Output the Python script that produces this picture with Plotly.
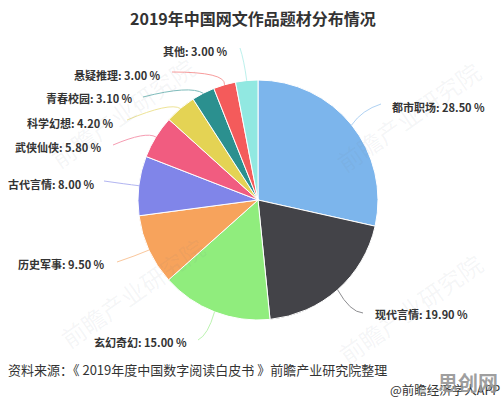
import math
import plotly.graph_objects as go

W, H = 504, 400
CJK = "Noto Sans CJK SC"

categories = ["都市职场", "现代言情", "玄幻奇幻", "历史军事", "古代言情",
              "武侠仙侠", "科学幻想", "青春校园", "悬疑推理", "其他"]
shares = [28.5, 19.9, 15.0, 9.5, 8.0, 5.8, 4.2, 3.1, 3.0, 3.0]
colors = ["#7cb5ec", "#434348", "#90ed7d", "#f7a35c", "#8085e9",
          "#f15c80", "#e4d354", "#2b908f", "#f45b5b", "#91e8e1"]

# 饼图位置（像素）
cx, cy, radius = 258, 200, 120

# 标签位置：左端x, 中心y
label_x = [390, 373, 92, 16, 6, 13, 25, 44, 72, 161]
label_y = [107, 314, 342, 264, 184, 147, 123, 98, 75, 51]
# 引线：拐点和终点
line_ctrl = [(362, 110), (350, 312), (208, 335), (135, 256), (125, 184),
             (146, 131), (170, 102), (190, 85), (226, 72), (244, 60)]
line_end = [(381, 104), (363, 313), (198, 340), (117, 262), (104, 181),
            (113, 145), (127, 120), (143, 97), (172, 72), (240, 48)]

# 水印
mark_x = [408, 132, 410, 122]
mark_y = [116, 292, 308, 112]


def px(x):
    return x / W


def py(y):
    return 1 - y / H


fig = go.Figure(go.Pie(
    labels=categories,
    values=shares,
    sort=False,
    direction="clockwise",
    rotation=0,
    marker=dict(colors=colors, line=dict(color="#ffffff", width=1)),
    textinfo="none",
    hoverinfo="label+percent",
    showlegend=False,
    domain=dict(x=[px(cx - radius), px(cx + radius)], y=[py(cy + radius), py(cy - radius)]),
))

annotations = []
shapes = []
total = sum(shares)
running = 0
for i, name in enumerate(categories):
    mid = (running + shares[i] / 2) / total * 2 * math.pi
    running += shares[i]
    sx = cx + radius * math.sin(mid)
    sy = cy - radius * math.cos(mid)
    c = line_ctrl[i]
    e = line_end[i]
    shapes.append(dict(
        type="path", xref="paper", yref="paper",
        path=f"M {px(sx)} {py(sy)} Q {px(c[0])} {py(c[1])} {px(e[0])} {py(e[1])}",
        line=dict(color=colors[i], width=1), opacity=0.6,
    ))
    annotations.append(dict(
        text=f"<b>{name}: {shares[i]:.2f} %</b>",
        xref="paper", yref="paper", x=px(label_x[i]), y=py(label_y[i]),
        xanchor="left", yanchor="middle", showarrow=False,
        font=dict(family=CJK, size=11, color="#333333"),
    ))

for x, y in zip(mark_x, mark_y):
    annotations.append(dict(
        text="前瞻产业研究院", xref="paper", yref="paper", x=px(x), y=py(y),
        xanchor="center", yanchor="middle", showarrow=False, textangle=-35,
        font=dict(family=CJK, size=24, color="rgba(110,120,130,0.07)"),
    ))

annotations += [
    dict(text="<b>2019年中国网文作品题材分布情况</b>", xref="paper", yref="paper",
         x=px(253), y=py(18), xanchor="center", yanchor="middle", showarrow=False,
         font=dict(family=CJK, size=16, color="#333333")),
    dict(text="资料来源：《 2019年度中国数字阅读白皮书 》前瞻产业研究院整理", xref="paper", yref="paper",
         x=px(6), y=py(369), xanchor="left", yanchor="middle", showarrow=False,
         font=dict(family=CJK, size=13, color="#333333")),
    dict(text="@前瞻经济学人APP", xref="paper", yref="paper",
         x=px(388), y=py(389), xanchor="left", yanchor="middle", showarrow=False,
         font=dict(family=CJK, size=12.5, color="#333333")),
    dict(text="<b>思创网</b>", xref="paper", yref="paper",
         x=px(468), y=py(382), xanchor="center", yanchor="middle", showarrow=False,
         font=dict(family=CJK, size=20, color="rgba(150,150,150,0.92)")),
]

fig.update_layout(
    width=W, height=H,
    margin=dict(l=0, r=0, t=0, b=0),
    paper_bgcolor="#ffffff",
    annotations=annotations,
    shapes=shapes,
)

fig.write_html("out.html", config=dict(displayModeBar=False),
               post_script="document.body.style.margin='0';")
